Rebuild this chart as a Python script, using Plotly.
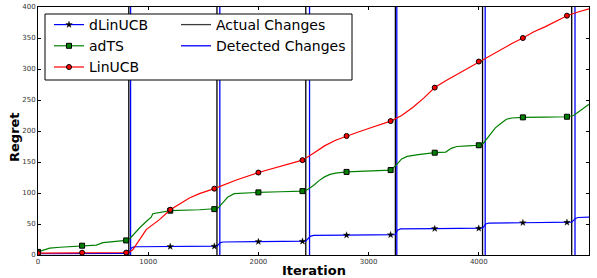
import plotly.graph_objects as go

# ---------------- data ----------------
dlin_x = [0, 400, 800, 824, 845, 870, 900, 1200, 1600, 1624, 1655, 1680, 2000, 2400, 2430, 2470, 2500,
          2800, 3200, 3243, 3262, 3290, 3600, 4000, 4034, 4062, 4090, 4400, 4800, 4843, 4878, 4900, 5000]
dlin_y = [2, 2.2, 2.5, 2.6, 11, 13, 13.3, 13.6, 14, 14.2, 20, 21, 21.5, 22, 22.3, 30, 31.5,
          32, 32.5, 33, 40, 42, 42.5, 43, 43.5, 50, 51.5, 52, 52.5, 53, 59, 60.5, 61]

adts_x = [0, 50, 106, 200, 400, 529, 589, 700, 800, 837, 880, 921, 982, 1027, 1042, 1132, 1200, 1465,
          1600, 1630, 1680, 1720, 1780, 1850, 2000, 2200, 2400, 2440, 2500, 2550, 2600, 2650, 2700, 2800,
          3000, 3200, 3250, 3300, 3350, 3450, 3600, 3700, 3750, 3800, 3900, 4000, 4040, 4070, 4150, 4200,
          4250, 4300, 4400, 4600, 4800, 4860, 4900, 4950, 5000]
adts_y = [5, 8, 11, 12.5, 15, 16, 20, 22, 23.5, 27, 36, 43.5, 54, 61, 66.6, 70, 71.5, 73,
          74, 75, 85, 93, 99, 100, 101, 102, 103, 105, 112, 120, 126, 130, 132, 134,
          135, 137, 145, 155, 159, 162, 165, 166, 172, 175, 176, 177, 180, 187, 205, 212,
          219, 221, 222, 222.5, 223, 225, 230, 236, 243]

lin_x = [0, 400, 800, 824, 860, 921, 982, 1102, 1200, 1374, 1465, 1600, 1800, 2000, 2200, 2400, 2500,
         2600, 2700, 2800, 2900, 3000, 3100, 3200, 3300, 3400, 3500, 3600, 3700, 3800, 3900, 4000,
         4100, 4200, 4300, 4400, 4500, 4600, 4700, 4800, 4900, 5000]
lin_y = [3, 3.7, 3.8, 4, 8.5, 24.7, 41, 57, 73, 92, 99, 107, 121, 133, 143, 153, 164,
         176, 185, 192, 198, 204, 210, 216, 225, 238, 253, 270, 281, 291, 302, 312,
         322, 331, 341, 350, 360, 368, 377, 386, 392, 397]

actual_changes = [824, 1624, 2430, 3243, 4034, 4843]
detected_changes = [840, 1650, 2464, 3256, 4058, 4873]

marker_every = 400
x_ticks = [0, 1000, 2000, 3000, 4000, 5000]
y_ticks = [0, 50, 100, 150, 200, 250, 300, 350, 400]

BLUE = "rgb(0,0,255)"
GREEN = "rgb(0,128,0)"
RED = "rgb(255,0,0)"

fig = go.Figure()


def vlines(xs):
    X, Y = [], []
    for v in xs:
        X += [v, v, None]
        Y += [0, 400, None]
    return X, Y


ax, ay = vlines(actual_changes)
dx, dy = vlines(detected_changes)
fig.add_trace(go.Scatter(x=ax, y=ay, mode="lines", line=dict(color="black", width=1.3),
                         showlegend=False, hoverinfo="skip"))
fig.add_trace(go.Scatter(x=dx, y=dy, mode="lines", line=dict(color=BLUE, width=1.3),
                         showlegend=False, hoverinfo="skip"))

series = [
    ("dLinUCB", dlin_x, dlin_y, BLUE, dict(symbol="star", size=5, color="black",
                                           line=dict(color="black", width=0.3))),
    ("adTS", adts_x, adts_y, GREEN, dict(symbol="square", size=5, color=GREEN,
                                         line=dict(color="black", width=1))),
    ("LinUCB", lin_x, lin_y, RED, dict(symbol="circle", size=5, color=RED,
                                       line=dict(color="black", width=1))),
]

for name, xs, ys, col, mk in series:
    fig.add_trace(go.Scatter(x=xs, y=ys, mode="lines", line=dict(color=col, width=1.2),
                             showlegend=False, hoverinfo="skip"))
    mx = [x for x in xs if x % marker_every == 0]
    my = [y for x, y in zip(xs, ys) if x % marker_every == 0]
    fig.add_trace(go.Scatter(x=mx, y=my, mode="markers", marker=mk,
                             showlegend=False, hoverinfo="skip"))

# legend-only entries
for name, xs, ys, col, mk in series:
    fig.add_trace(go.Scatter(x=[None], y=[None], mode="lines+markers", name=name,
                             line=dict(color=col, width=1.2), marker=mk, legend="legend"))
fig.add_trace(go.Scatter(x=[None], y=[None], mode="lines", name="Actual Changes",
                         line=dict(color="rgb(60,60,60)", width=1.3), legend="legend2"))
fig.add_trace(go.Scatter(x=[None], y=[None], mode="lines", name="Detected Changes",
                         line=dict(color=BLUE, width=1.3), legend="legend2"))

L, R, T, B = 38, 8, 7, 23
W, H = 597, 278
pw, ph = W - L - R, H - T - B


def px_x(p):
    return (p - L) / pw


def px_y(p):
    return (H - B - p) / ph


fig.add_shape(type="rect", xref="paper", yref="paper",
              x0=px_x(45), x1=px_x(352), y0=px_y(80), y1=px_y(14),
              line=dict(color="black", width=1), fillcolor="white", layer="above")

fig.add_annotation(text="<b>Iteration</b>", xref="paper", yref="paper",
                   x=px_x(314), y=px_y(270), xanchor="center", yanchor="middle",
                   showarrow=False, font=dict(family="DejaVu Sans", size=13, color="black"))
fig.add_annotation(text="<b>Regret</b>", xref="paper", yref="paper",
                   x=px_x(14), y=px_y(137), xanchor="center", yanchor="middle", textangle=-90,
                   showarrow=False, font=dict(family="DejaVu Sans", size=13, color="black"))

legend_font = dict(family="DejaVu Sans", size=14, color="black")
fig.update_layout(
    width=W, height=H,
    margin=dict(l=L, r=R, t=T, b=B, pad=0, autoexpand=False),
    paper_bgcolor="white", plot_bgcolor="white",
    font=dict(family="DejaVu Sans", color="#222"),
    legend=dict(x=px_x(49), y=px_y(9), xanchor="left", yanchor="top",
                bgcolor="rgba(0,0,0,0)", borderwidth=0, font=legend_font,
                tracegroupgap=0, itemwidth=30),
    legend2=dict(x=px_x(176), y=px_y(9), xanchor="left", yanchor="top",
                 bgcolor="rgba(0,0,0,0)", borderwidth=0, font=legend_font,
                 tracegroupgap=0, itemwidth=30),
    xaxis=dict(range=[0, 5000], tickvals=x_ticks, ticktext=[str(v) for v in x_ticks],
               ticks="inside", ticklen=3, tickcolor="black", showgrid=False, zeroline=False,
               showline=True, linecolor="black", linewidth=1, mirror="ticks", automargin=False,
               tickfont=dict(family="DejaVu Sans", size=7, color="#333")),
    yaxis=dict(range=[0, 400], tickvals=y_ticks, ticktext=[str(v) for v in y_ticks],
               ticks="inside", ticklen=3, tickcolor="black", showgrid=False, zeroline=False,
               showline=True, linecolor="black", linewidth=1, mirror="ticks", automargin=False,
               tickfont=dict(family="DejaVu Sans", size=7, color="#333")),
)

fig.write_html("out.html", config={"displayModeBar": False},
               post_script="document.body.style.margin='0';document.body.style.overflow='hidden';")
